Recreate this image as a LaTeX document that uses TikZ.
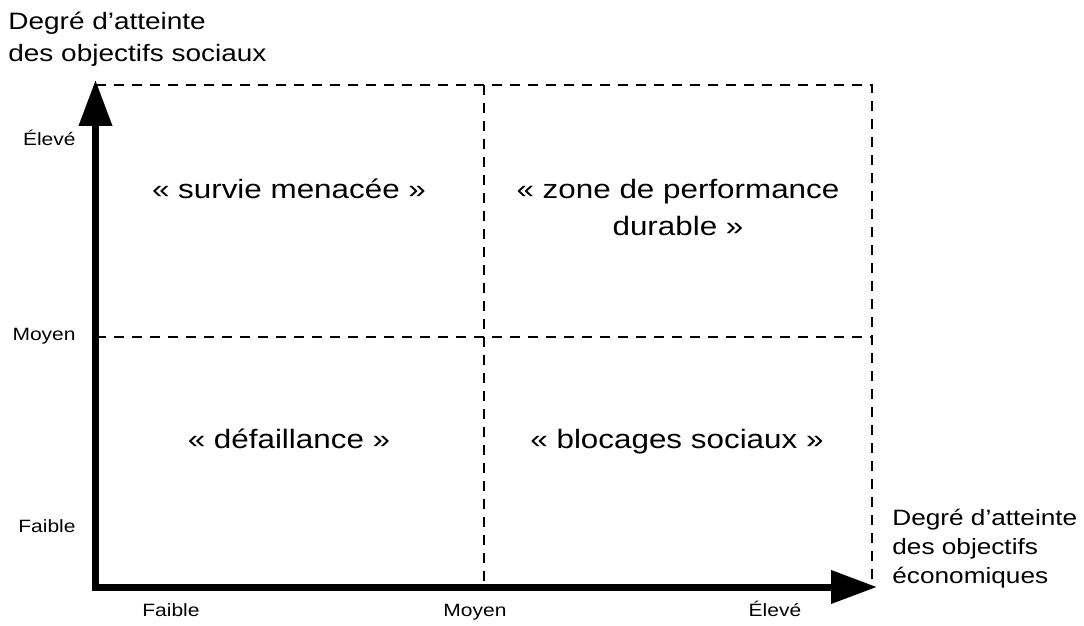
\documentclass[tikz,border=0pt]{standalone}
\usepackage{fontspec}
\setmainfont{Liberation Sans}[FakeStretch=1.18]
\usetikzlibrary{arrows.meta}
\begin{document}
\begin{tikzpicture}[x=0.5pt,y=-0.5pt,
  grid/.style={line width=1pt, dash pattern=on 5pt off 4pt},
  axis/.style={line width=3.5pt, line join=miter,
    {Triangle[length=23pt,width=16pt]}-{Triangle[length=23pt,width=16pt]}},
  quad/.style={font=\fontsize{13.3}{18.5}\selectfont, align=center, inner sep=0pt},
  tick/.style={font=\fontsize{8.9}{11}\selectfont, inner sep=0pt},
  axtitle/.style={align=left, inner sep=0pt},
]
\useasboundingbox (0,0) rectangle (1084,626);

% grid corners
\coordinate (TL) at (96,85);
\coordinate (TR) at (872,85);
\coordinate (BR) at (872,587);
\coordinate (TM) at (484,85);
\coordinate (BM) at (484,587);
\coordinate (ML) at (96,337);
\coordinate (MR) at (872,337);

% dashed quadrant lines
\draw[grid] (TL) -- (TR) -- (BR);
\draw[grid] (TM) -- (BM);
\draw[grid] (ML) -- (MR);

% axes
\coordinate (ytip) at (95.5,80);
\coordinate (xtip) at (877,587);
\draw[axis] (ytip) |- (xtip);

% axis titles (base anchor = baseline of the last line)
\node[axtitle, anchor=base west, font=\fontsize{11.85}{16.5}\selectfont] (ty) at (8,62)
  {Degré d’atteinte\\des objectifs sociaux};
\node[axtitle, anchor=base west, font=\fontsize{11.1}{14.3}\selectfont] (tx) at (892,583)
  {Degré d’atteinte\\des objectifs\\économiques};

% scale labels, vertical axis
\node[tick, anchor=base east] (yh) at (76,146) {Élevé};
\node[tick, anchor=base east] (ym) at (76,341) {Moyen};
\node[tick, anchor=base east] (yl) at (76,532) {Faible};

% scale labels, horizontal axis
\node[tick, anchor=base] (xl) at (171,617) {Faible};
\node[tick, anchor=base] (xm) at (475,617) {Moyen};
\node[tick, anchor=base] (xh) at (775,617) {Élevé};

% quadrant names
\node[quad, anchor=base] (q1) at (289,199) {«~survie menacée~»};
\node[quad, anchor=base] (q2) at (678,236) {«~zone de performance\\durable~»};
\node[quad, anchor=base] (q3) at (289,449) {«~défaillance~»};
\node[quad, anchor=base] (q4) at (677,449) {«~blocages sociaux~»};
\end{tikzpicture}
\end{document}
